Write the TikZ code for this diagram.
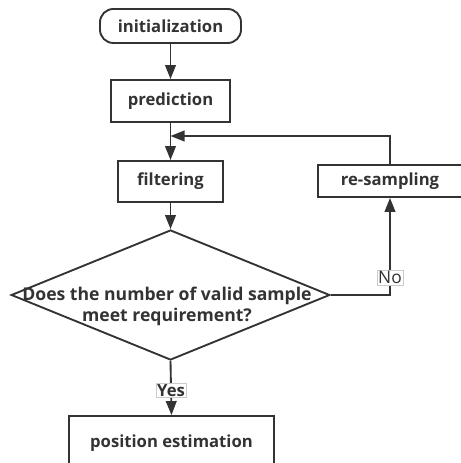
\documentclass[tikz,border=0pt]{standalone}
\usepackage{fontspec}
\setmainfont{Open Sans}
\usetikzlibrary{arrows.meta, shapes.geometric}
\definecolor{ink}{HTML}{333333}
\tikzset{
  box/.style = {draw=ink, line width=1.4pt, font=\bfseries\fontsize{12.5}{14}\selectfont, text=ink, inner sep=0pt},
  terminal/.style = {box, rounded corners=10pt},
  decision/.style = {diamond, draw=ink, line width=1.4pt, inner sep=0pt, minimum width=239pt, minimum height=97.5pt},
  flow/.style = {draw=ink, line width=1.4pt, -{Triangle[length=10.5pt, width=8pt]}},
  tag/.style = {draw=black!20, line width=0.4pt, fill=white, inner sep=1pt, text=ink, font=\fontsize{13}{15}\selectfont}
}

\begin{document}
\begin{tikzpicture}[x=0.75pt, y=-0.75pt]

    \useasboundingbox (0,0) rectangle (460,463);

    % Steps
    \node[terminal, minimum width=105.75pt, minimum height=25.5pt] (init) at (170.5,26) {initialization};
    \node[box, minimum width=89.25pt, minimum height=31.5pt] (pred) at (170.5,101) {prediction};
    \node[box, minimum width=78.75pt, minimum height=30.75pt] (filt) at (170.5,181.5) {filtering};
    \node[box, minimum width=108pt, minimum height=24pt] (resamp) at (390,181) {re-sampling};
    \node[box, minimum width=153.75pt, minimum height=40.5pt] (posest) at (171.5,443) {position estimation};

    % Decision
    \node[decision] (check) at (170.5,295) {};
    \node[font=\bfseries\fontsize{13.2}{15.75}\selectfont, text=ink, align=center] (question) at (167,306)
        {Does the number of valid sample\\meet requirement?};

    % Arrows
    \coordinate (merge) at (170.5,136);
    \draw[flow] (init) -- (pred);
    \draw[flow] (pred) -- (filt);
    \draw[flow] (filt) -- (check.north);
    \draw[flow] (resamp.north) |- (merge);
    \draw[flow] (check.east) -| (resamp.south) node[tag, pos=0.59] {No};
    \draw[flow] (check.south) -- (posest.north) node[tag, pos=0.54, font=\bfseries\fontsize{12.5}{14}\selectfont] {Yes};

\end{tikzpicture}
\end{document}
